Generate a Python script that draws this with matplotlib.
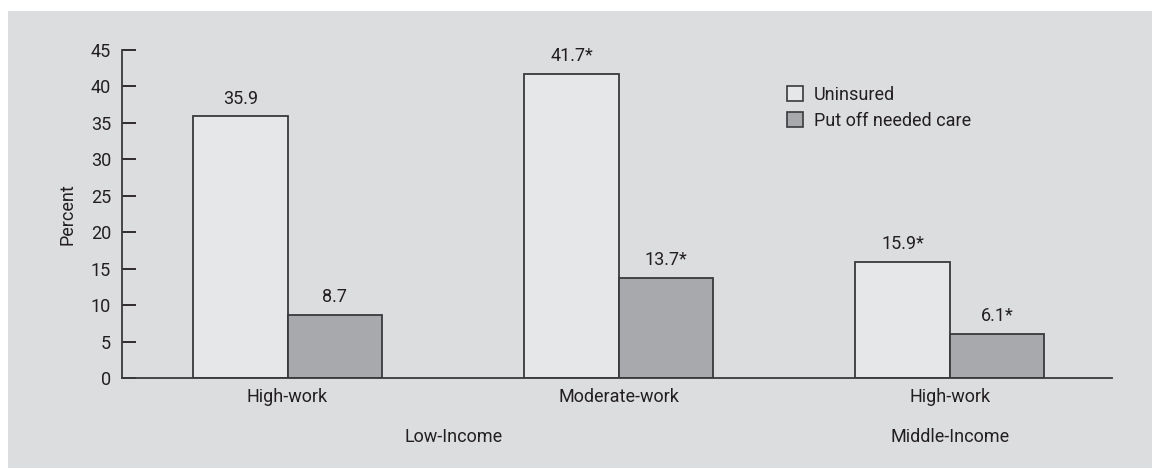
import matplotlib
matplotlib.use("Agg")
import matplotlib.pyplot as plt
from matplotlib.patches import Rectangle, Patch
import numpy as np

groups = ["High-work", "Moderate-work", "High-work"]
incomes = ["Low-Income", "Middle-Income"]
uninsured = [35.9, 41.7, 15.9]
put_off = [8.7, 13.7, 6.1]
uninsured_labels = ["35.9", "41.7*", "15.9*"]
put_off_labels = ["8.7", "13.7*", "6.1*"]
series_names = ["Uninsured", "Put off needed care"]
yticks = [0, 5, 10, 15, 20, 25, 30, 35, 40, 45]

plt.rcParams['font.family'] = ['Roboto', 'DejaVu Sans']
FS = 13
txt = '#231f20'
bg = '#dcdddf'
c1 = '#e6e7e8'
c2 = '#a7a9ac'
edge = '#3a3a3c'

W, H = 1152, 468
fig = plt.figure(figsize=(W/100, H/100), dpi=100)
fig.patch.set_facecolor('white')
fig.add_artist(Rectangle((8/W, 0), 1 - 8/W, 1 - 11/H, transform=fig.transFigure,
                         facecolor=bg, edgecolor='none', zorder=0))

ax = fig.add_axes([122/W, 1 - 378/H, (1112-122)/W, (378-50)/H])
ax.set_facecolor('none')
x = np.arange(len(groups))
w = 0.285
ax.bar(x - w/2, uninsured, w, color=c1, edgecolor=edge, linewidth=1.3, label=series_names[0])
ax.bar(x + w/2, put_off, w, color=c2, edgecolor=edge, linewidth=1.3, label=series_names[1])
for xi, v, lab in zip(x - w/2, uninsured, uninsured_labels):
    ax.text(xi, v + 1.2, lab, ha='center', va='bottom', fontsize=FS, color=txt)
for xi, v, lab in zip(x + w/2, put_off, put_off_labels):
    ax.text(xi, v + 1.2, lab, ha='center', va='bottom', fontsize=FS, color=txt)

ax.set_xlim(-0.5, 2.49)
ax.set_ylim(0, 45)
ax.set_yticks(yticks)
ax.tick_params(axis='y', direction='in', length=10, width=1.3, colors=txt, labelsize=FS, pad=8)
ax.set_xticks(x)
ax.set_xticklabels(groups)
ax.tick_params(axis='x', length=0, labelsize=FS, colors=txt, pad=7)
for s in ['top', 'right']:
    ax.spines[s].set_visible(False)
for s in ['left', 'bottom']:
    ax.spines[s].set_color(edge)
    ax.spines[s].set_linewidth(1.3)
ax.set_ylabel("Percent", fontsize=FS, color=txt, labelpad=10)

ax.text(0.5, -0.18, incomes[0], transform=ax.get_xaxis_transform(), ha='center', va='center',
        fontsize=FS, color=txt)
ax.text(2, -0.18, incomes[1], transform=ax.get_xaxis_transform(), ha='center', va='center',
        fontsize=FS, color=txt)

handles = [Patch(facecolor=c1, edgecolor=edge, linewidth=1.2),
           Patch(facecolor=c2, edgecolor=edge, linewidth=1.2)]
ax.legend(handles, series_names, loc='upper left', bbox_to_anchor=((787-122)/(1112-122), (378-86)/328),
          frameon=False, fontsize=FS, handlelength=0.9, handleheight=0.9, handletextpad=0.6,
          labelspacing=0.45, labelcolor=txt, borderaxespad=0, borderpad=0)

fig.savefig("out.png", dpi=100, facecolor=fig.get_facecolor())
